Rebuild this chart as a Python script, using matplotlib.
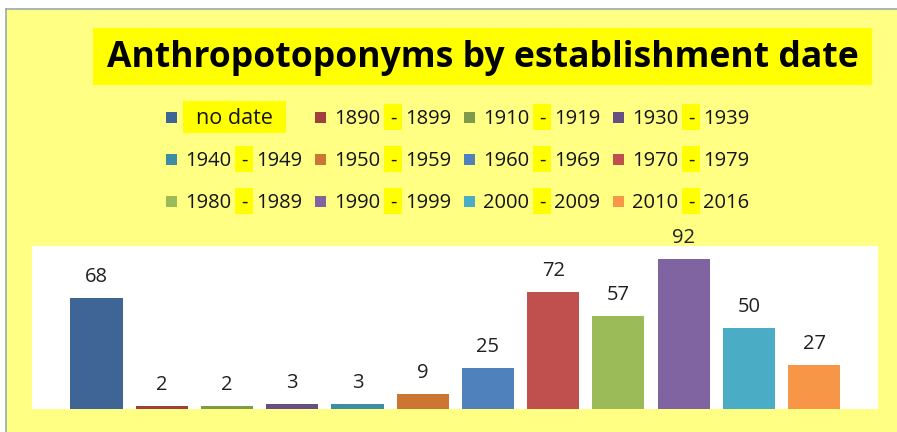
import matplotlib
matplotlib.use("Agg")
import matplotlib.pyplot as plt
from matplotlib.patches import Rectangle
from matplotlib.lines import Line2D

# ---- data ----
categories = ["no date", "1890-1899", "1910-1919", "1930-1939",
              "1940-1949", "1950-1959", "1960-1969", "1970-1979",
              "1980-1989", "1990-1999", "2000-2009", "2010-2016"]
values = [68, 2, 2, 3, 3, 9, 25, 72, 57, 92, 50, 27]
colors = ["#3F6597", "#A0403E", "#7F9A48", "#654F83",
          "#3B8EA4", "#CB7632", "#4F81BD", "#C0504D",
          "#9BBB59", "#8064A2", "#4BACC6", "#F79646"]
title = "Anthropotoponyms by establishment date"

W, H = 897, 432
FONT = ["Open Sans", "DejaVu Sans"]
plt.rcParams["font.family"] = FONT

fig = plt.figure(figsize=(W / 100, H / 100), dpi=100)
fig.patch.set_facecolor("white")

def fx(x):
    return x / W

def fy(y):
    return 1 - y / H

# background panel
fig.patches.append(Rectangle((fx(6), 0), 1 - fx(6), fy(9), transform=fig.transFigure,
                             facecolor="#FFFF84", edgecolor="none", zorder=-2))
fig.lines.append(Line2D([fx(6), 1], [fy(9), fy(9)], transform=fig.transFigure,
                        color="#9AAAB0", lw=1.2, zorder=-1))
fig.lines.append(Line2D([fx(6), fx(6)], [0, fy(9)], transform=fig.transFigure,
                        color="#9AAAB0", lw=1.2, zorder=-1))

# title box
fig.patches.append(Rectangle((fx(93), fy(85)), fx(872) - fx(93), fy(28) - fy(85),
                             transform=fig.transFigure, facecolor="#FFFF00",
                             edgecolor="none", zorder=1))
t = fig.text(fx(482.5), fy(67), title, ha="center", va="baseline",
             fontsize=28, fontweight="bold", color="black", zorder=2)
fig.canvas.draw()
r = fig.canvas.get_renderer()
w = t.get_window_extent(r).width
t.set_fontsize(28 * 750 / w)

# legend
col_x = [166, 315, 464, 613]
row_y = [117, 159, 201]
LS = 14.5
TC = "#141414"
for i, (cat, col) in enumerate(zip(categories, colors)):
    r_, c_ = divmod(i, 4)
    mx, cy = col_x[c_], row_y[r_]
    fig.patches.append(Rectangle((fx(mx), fy(cy + 5.5)), 11 / W, 11 / H,
                                 transform=fig.transFigure, facecolor=col,
                                 edgecolor="none", zorder=2))
    base = cy + 7
    if "-" in cat:
        a, b = cat.split("-")
        fig.text(fx(mx + 19), fy(base), a, fontsize=LS, color=TC,
                 ha="left", va="baseline", zorder=3)
        fig.patches.append(Rectangle((fx(mx + 69), fy(cy + 13)), 18 / W, 26 / H,
                                     transform=fig.transFigure, facecolor="#FFFF00",
                                     edgecolor="none", zorder=2))
        fig.text(fx(mx + 78), fy(base), "-", fontsize=LS, color=TC,
                 ha="center", va="baseline", zorder=3)
        fig.text(fx(mx + 90), fy(base), b, fontsize=LS, color=TC,
                 ha="left", va="baseline", zorder=3)
    else:
        fig.patches.append(Rectangle((fx(183), fy(cy + 16)), 103 / W, 32 / H,
                                     transform=fig.transFigure, facecolor="#FFFF00",
                                     edgecolor="none", zorder=2))
        fig.text(fx(234.5), fy(base), cat, fontsize=15.5, color=TC,
                 ha="center", va="baseline", zorder=3)

# chart
ax = fig.add_axes([fx(32), fy(409), (878 - 32) / W, (409 - 246) / H])
ax.set_zorder(5)
ax.set_facecolor("white")
x = list(range(len(categories)))
ax.bar(x, values, width=0.8, color=colors, zorder=2)
for xi, v in zip(x, values):
    ax.annotate(str(v), (xi, v), xytext=(0, 11.5), textcoords="offset points",
                ha="center", va="baseline", fontsize=LS, color="#202020",
                annotation_clip=False)
ax.set_xlim(-0.99, 11.98)
ax.set_ylim(0, 100)
for s in ax.spines.values():
    s.set_visible(False)
ax.set_xticks([])
ax.set_yticks([])

fig.savefig("out.png", dpi=100, facecolor=fig.get_facecolor())
